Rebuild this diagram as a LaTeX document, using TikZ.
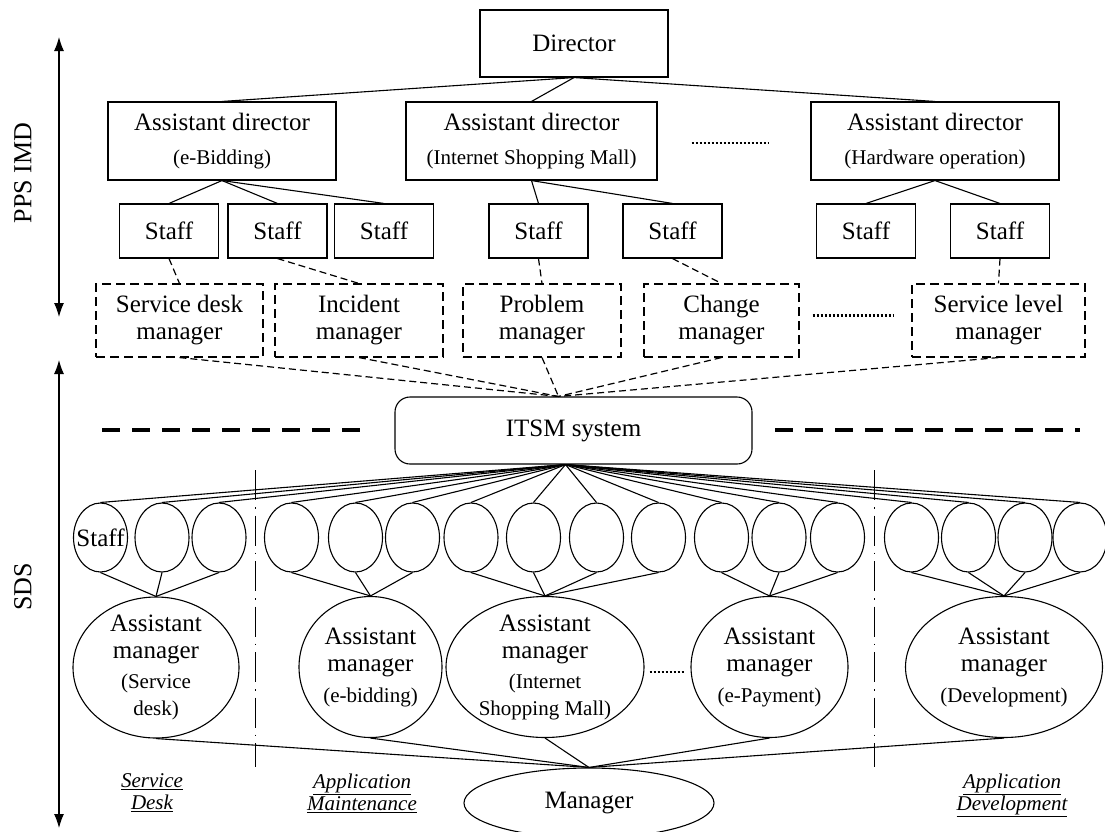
\documentclass[tikz,border=0pt]{standalone}
\usepackage{fontspec}
\setmainfont{Liberation Serif}
\usetikzlibrary{shapes.geometric,arrows.meta}

\newcommand{\subtxt}[1]{{\fontsize{21}{24}\selectfont #1}}

\begin{document}
\begin{tikzpicture}[x=1pt, y=-1pt, >={Latex[length=14pt,width=10pt]}, line width=1.1pt,
        every node/.style={font=\fontsize{25}{27}\selectfont, align=center, inner sep=0pt},
        adbox/.style={draw, minimum width=#1, minimum height=78},
        staffbox/.style={draw, minimum width=99, minimum height=54},
        mgrbox/.style={draw, dash pattern=on 9pt off 5pt, minimum width=#1, minimum height=73},
        staffc/.style={draw, ellipse, minimum width=54, minimum height=69, inner sep=-15pt},
        amgr/.style={draw, ellipse, minimum width=#1, minimum height=141, inner sep=-25pt},
        link/.style={dash pattern=on 7pt off 4pt, line width=1.2pt},
        gap/.style={line width=2.5pt, dash pattern=on 2pt off 2pt},
        sep/.style={line width=3.5pt, dash pattern=on 18pt off 12pt},
        divider/.style={line width=1pt, dash pattern=on 30pt off 7pt on 1.5pt off 7pt},
        areatxt/.style={font=\fontsize{21}{22}\selectfont\itshape},
        sidetxt/.style={font=\fontsize{26}{28}\selectfont, rotate=90}]
                \useasboundingbox (0,0) rectangle (1105,831);

                % PPS IMD
                \node[adbox=188, minimum height=67] (dir) at (574,43.5) {Director};
                \node[adbox=228] (ad1) at (222,141) {Assistant director\\[7pt]\subtxt{(e-Bidding)}};
                \node[adbox=251] (ad2) at (531.5,141) {Assistant director\\[7pt]\subtxt{(Internet Shopping Mall)}};
                \node[adbox=248] (ad3) at (935,141) {Assistant director\\[7pt]\subtxt{(Hardware operation)}};
                \draw[gap] ([xshift=34pt,yshift=-2pt]ad2.east) -- ([xshift=-41pt,yshift=-2pt]ad3.west);

                \node[staffbox] (s1) at (169,231) {Staff};
                \node[staffbox] (s2) at (277.5,231) {Staff};
                \node[staffbox] (s3) at (384,231) {Staff};
                \node[staffbox] (s4) at (538.5,231) {Staff};
                \node[staffbox] (s5) at (672.5,231) {Staff};
                \node[staffbox] (s6) at (866,231) {Staff};
                \node[staffbox] (s7) at (1000,231) {Staff};

                \node[mgrbox=167] (sdm) at (179.5,320.5) {Service desk\\manager};
                \node[mgrbox=168] (inc) at (359,320.5) {Incident\\manager};
                \node[mgrbox=158] (prb) at (542,320.5) {Problem\\manager};
                \node[mgrbox=155] (chg) at (721.5,320.5) {Change\\manager};
                \node[mgrbox=173] (slm) at (998.5,320.5) {Service level\\manager};
                \draw[gap] ([xshift=13pt,yshift=5pt]chg.east) -- ([xshift=-17pt,yshift=5pt]slm.west);

                \foreach \a in {ad1,ad2,ad3}
                    \draw (dir.south) -- (\a.north);
                \foreach \a/\s in {ad1/s1,ad1/s2,ad1/s3,ad2/s4,ad2/s5,ad3/s6,ad3/s7}
                    \draw (\a.south) -- (\s.north);
                \foreach \s/\m in {s1/sdm,s2/inc,s4/prb,s5/chg,s7/slm}
                    \draw[link] (\s.south) -- (\m.north);

                % ITSM system
                \node[draw, rounded corners=15pt, minimum width=357, minimum height=67] (itsm) at (573.5,430.5) {ITSM system};
                \coordinate (in) at ([xshift=-15pt]itsm.north);
                \coordinate (out) at ([xshift=-8pt]itsm.south);
                \foreach \m in {sdm,inc,prb,chg,slm}
                    \draw[link] (\m.south) -- (in);
                \draw[sep] (102,430) -- (371,430);
                \draw[sep] (775,430) -- (1080,430);

                % SDS
                \draw[divider] (255,470) -- (255,767);
                \draw[divider] (874,470) -- (874,767);

                \node[staffc] (c1) at (100.5,537.5) {Staff};
                \foreach \x [count=\i from 2] in {162,219,291.5,355.5,412.5,471,533.5,596.5,658.5,721.5,779,837.5,911.5,968.5,1025,1080}
                    \node[staffc] (c\i) at (\x,537.5) {};

                \node[amgr=166] (am1) at (156,667.5) {Assistant\\manager\\[3pt]\subtxt{(Service}\\\subtxt{desk)}};
                \node[amgr=143] (am2) at (370.5,667) {Assistant\\manager\\[4pt]\subtxt{(e-bidding)}};
                \node[amgr=198] (am3) at (545,667) {Assistant\\manager\\[3pt]\subtxt{(Internet}\\\subtxt{Shopping Mall)}};
                \node[amgr=157] (am4) at (769.5,667) {Assistant\\manager\\[4pt]\subtxt{(e-Payment)}};
                \node[amgr=197] (am5) at (1004,667) {Assistant\\manager\\[4pt]\subtxt{(Development)}};
                \draw[gap] ([xshift=5pt,yshift=-5pt]am3.east) -- ([xshift=-6pt,yshift=-5pt]am4.west);

                \node[draw, ellipse, minimum width=250, minimum height=70, inner sep=-10pt] (mgr) at (589,803) {Manager};

                \foreach \i in {1,...,17}
                    \draw (out) -- (c\i.north);
                \foreach \i/\a in {1/1,2/1,3/1,4/2,5/2,6/2,7/3,8/3,9/3,10/3,11/4,12/4,13/4,14/5,15/5,16/5,17/5}
                    \draw (c\i.south) -- (am\a.north);
                \foreach \a in {1,...,5}
                    \draw (am\a.south) -- (mgr.north);

                \node[areatxt] (sdlbl) at (152,793) {\underline{Service}\\\underline{Desk}};
                \node[areatxt] (amlbl) at (362,793) {\underline{Application}\\\underline{Maintenance}};
                \node[areatxt] (adlbl) at (1012,795) {\underline{Application}\\\underline{Development}};

                % Side arrows
                \draw[<->] (59,37) -- (59,317);
                \draw[<->] (59,360) -- (59,828);
                \node[sidetxt] (ppsimd) at (23,173) {PPS IMD};
                \node[sidetxt] (sds) at (23,587) {SDS};
            \end{tikzpicture}
\end{document}
